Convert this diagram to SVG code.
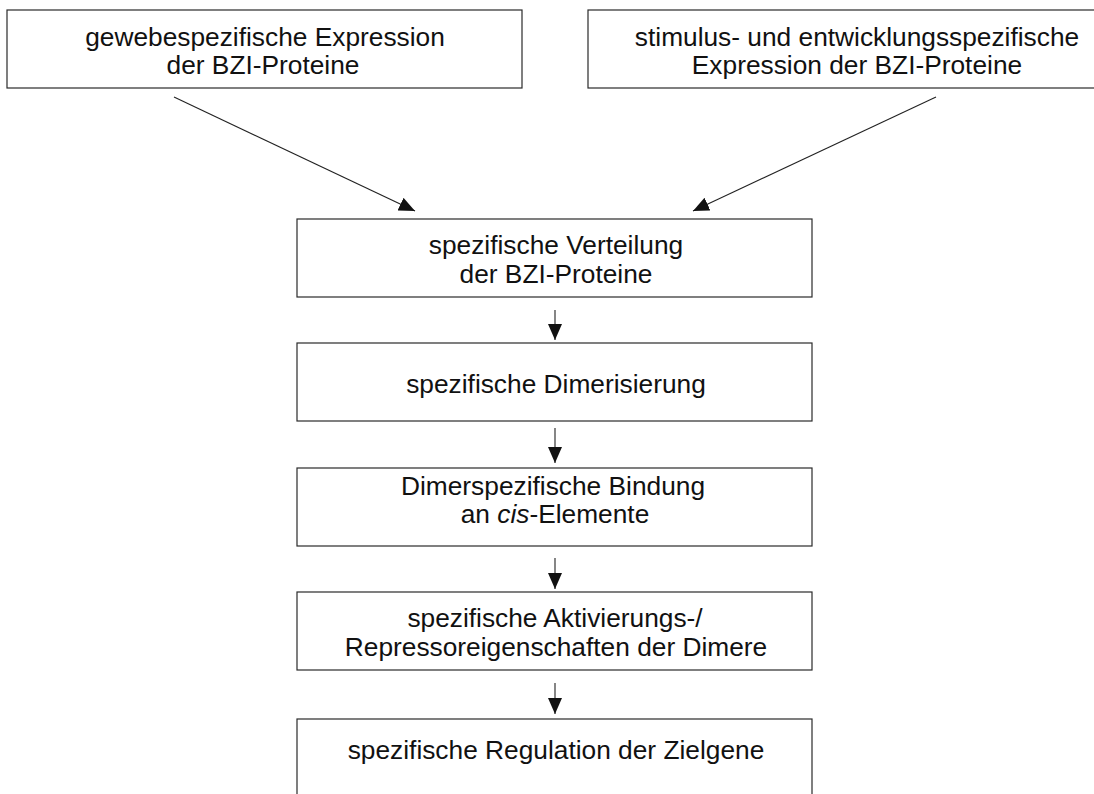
<svg xmlns="http://www.w3.org/2000/svg" width="1094" height="794" viewBox="0 0 1094 794">
<defs>
<style>
.box{fill:#fff;stroke:#2a2a2a;stroke-width:1.2}
.t{font-family:"Liberation Sans",Arial,sans-serif;font-size:26.3px;fill:#111;text-anchor:middle}
.c{stroke:#222;stroke-width:1.1;fill:none;marker-end:url(#ah)}
</style>
<marker id="ah" markerUnits="userSpaceOnUse" markerWidth="17" markerHeight="15" refX="16" refY="7" orient="auto">
<path d="M0,0 L16,7 L0,14 z" fill="#111"/>
</marker>
</defs>
<rect width="1094" height="794" fill="#fff"/>
<g id="n1"><rect class="box" x="7" y="10" width="515" height="78"/>
<text class="t" x="265" y="46">gewebespezifische Expression</text>
<text class="t" x="263" y="74">der BZI-Proteine</text></g>
<g id="n2"><rect class="box" x="588" y="10" width="540" height="78"/>
<text class="t" x="857" y="46">stimulus- und entwicklungsspezifische</text>
<text class="t" x="857" y="74">Expression der BZI-Proteine</text></g>
<g id="n3"><rect class="box" x="297" y="219" width="515" height="78"/>
<text class="t" x="556" y="254">spezifische Verteilung</text>
<text class="t" x="556" y="283">der BZI-Proteine</text></g>
<g id="n4"><rect class="box" x="297" y="343" width="515" height="78"/>
<text class="t" x="556" y="393">spezifische Dimerisierung</text></g>
<g id="n5"><rect class="box" x="297" y="468" width="515" height="78"/>
<text class="t" x="553" y="495">Dimerspezifische Bindung</text>
<text class="t" x="555" y="523">an <tspan font-style="italic">cis</tspan>-Elemente</text></g>
<g id="n6"><rect class="box" x="297" y="592" width="515" height="78"/>
<text class="t" x="555" y="627">spezifische Aktivierungs-/</text>
<text class="t" x="556" y="656">Repressoreigenschaften der Dimere</text></g>
<g id="n7"><rect class="box" x="297" y="719" width="515" height="100"/>
<text class="t" x="556" y="759">spezifische Regulation der Zielgene</text></g>
<g id="connectors">
<line class="c" x1="174" y1="97" x2="415" y2="211"/>
<line class="c" x1="936" y1="97" x2="693" y2="211"/>
<line class="c" x1="555" y1="310" x2="555" y2="340"/>
<line class="c" x1="555" y1="428" x2="555" y2="463"/>
<line class="c" x1="555" y1="558" x2="555" y2="589"/>
<line class="c" x1="555" y1="683" x2="555" y2="714"/>
</g>
</svg>
